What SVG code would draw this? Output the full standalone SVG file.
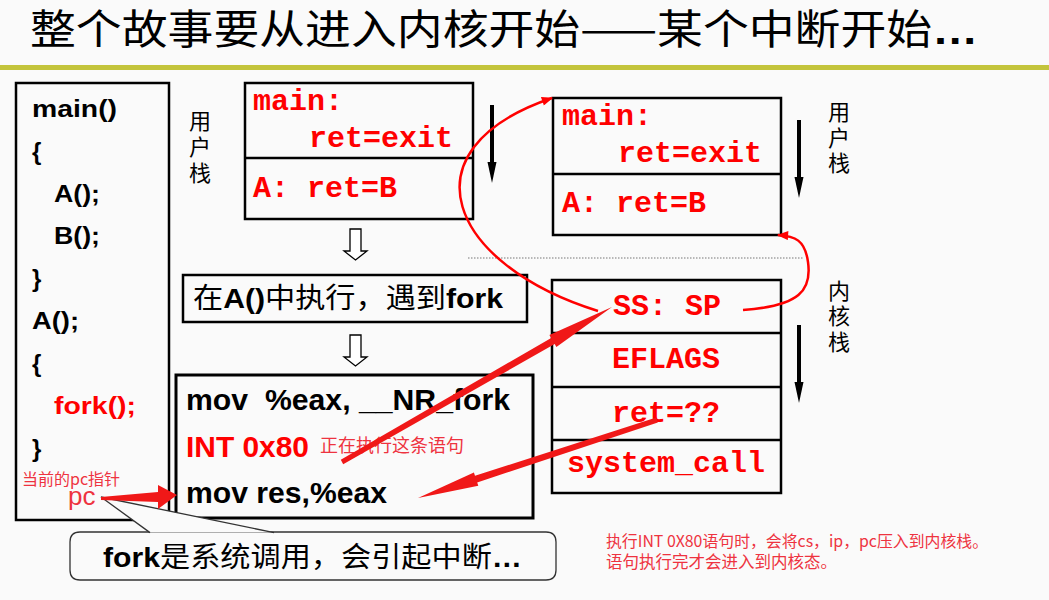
<svg xmlns="http://www.w3.org/2000/svg" width="1049" height="600" viewBox="0 0 1049 600">
<style>
.box{fill:none;stroke:#000;stroke-width:2.5}
.code{font-family:"Liberation Sans",Arial,sans-serif;font-weight:bold;font-size:24px;fill:#000}
.asm{font-family:"Liberation Sans",Arial,sans-serif;font-weight:bold;font-size:29px;fill:#000;white-space:pre}
.mono{font-family:"Liberation Mono","Courier New",monospace;font-weight:bold;font-size:30px;fill:#f00}
.cjk{font-family:"Noto Sans CJK SC",sans-serif;fill:#000}
.mix{font-family:"Liberation Sans","Noto Sans CJK SC",sans-serif;font-size:28px;fill:#000}
.note{font-family:"Noto Sans CJK SC",sans-serif;fill:#ee3340}
.red{fill:#f00}
.b{font-weight:bold}
.lat{font-family:"Liberation Sans",Arial,sans-serif;font-weight:bold}
.harrow{fill:#fff;stroke:#000;stroke-width:1.3}
.curve{fill:none;stroke:#f00;stroke-width:2.5}
.rarrow{fill:#f01818}
</style>
<defs>
<marker id="rh" viewBox="0 0 10 8" markerWidth="12" markerHeight="9" refX="9" refY="4" orient="auto" markerUnits="userSpaceOnUse">
<path d="M0,0 L10,4 L0,8 z" fill="#f00"/>
</marker>
</defs>
<rect width="1049" height="600" fill="#fafafa"/>

<g id="title">
<text x="30" y="44" class="cjk" font-size="41" textLength="948" lengthAdjust="spacingAndGlyphs">整个故事要从进入内核开始——某个中断开始<tspan class="lat">…</tspan></text>
<rect x="0" y="65" width="1049" height="5" fill="#c3c43c"/>
</g>

<g id="code-box">
<rect class="box" x="16" y="83" width="153" height="437"/>
<text class="code" x="32" y="117" textLength="85" lengthAdjust="spacingAndGlyphs">main()</text>
<text class="code" x="32" y="160">{</text>
<text class="code" x="54" y="202" textLength="46" lengthAdjust="spacingAndGlyphs">A();</text>
<text class="code" x="54" y="244" textLength="46" lengthAdjust="spacingAndGlyphs">B();</text>
<text class="code" x="32" y="287">}</text>
<text class="code" x="32" y="329" textLength="47" lengthAdjust="spacingAndGlyphs">A();</text>
<text class="code" x="32" y="372">{</text>
<text class="code red" x="54" y="414" textLength="82" lengthAdjust="spacingAndGlyphs">fork();</text>
<text class="code" x="32" y="457">}</text>
<text class="note" x="22" y="485" font-size="16">当前的pc指针</text>
<text class="note" x="68" y="505" font-size="26" style="font-family:'Liberation Sans','Noto Sans CJK SC',sans-serif">pc</text>
</g>

<g id="user-stack-label-1">
<text class="cjk" font-size="22"><tspan x="189" y="129">用</tspan><tspan x="189" y="155">户</tspan><tspan x="189" y="181">栈</tspan></text>
</g>

<g id="user-stack-1">
<rect class="box" x="245" y="83" width="228" height="136"/>
<line x1="245" y1="158" x2="473" y2="158" stroke="#000" stroke-width="2.5"/>
<text class="mono" x="253" y="110">main:</text>
<text class="mono" x="309" y="147">ret=exit</text>
<text class="mono" x="253" y="197">A: ret=B</text>
</g>

<g id="exec-box">
<rect class="box" x="183" y="275" width="344" height="47"/>
<text class="mix" x="193" y="308" textLength="310" lengthAdjust="spacingAndGlyphs">在<tspan class="b">A()</tspan>中执行，遇到<tspan class="b">fork</tspan></text>
</g>

<g id="asm-box">
<rect class="box" x="176" y="375" width="357" height="143" style="stroke-width:3"/>
<text class="asm" x="186" y="410" textLength="324" lengthAdjust="spacingAndGlyphs">mov  %eax, __NR_fork</text>
<text class="asm red" x="186" y="457" font-size="31" textLength="123" lengthAdjust="spacingAndGlyphs">INT 0x80</text>
<text class="note" x="320" y="452" font-size="18">正在执行这条语句</text>
<text class="asm" x="186" y="503" textLength="201" lengthAdjust="spacingAndGlyphs">mov res,%eax</text>
</g>

<g id="user-stack-2">
<rect class="box" x="553" y="98" width="228" height="137"/>
<line x1="553" y1="174" x2="781" y2="174" stroke="#000" stroke-width="2.5"/>
<text class="mono" x="562" y="125">main:</text>
<text class="mono" x="618" y="162">ret=exit</text>
<text class="mono" x="562" y="212">A: ret=B</text>
</g>

<g id="user-stack-label-2">
<text class="cjk" font-size="22"><tspan x="828" y="120">用</tspan><tspan x="828" y="146">户</tspan><tspan x="828" y="171">栈</tspan></text>
</g>

<g id="divider">
<line x1="468" y1="258" x2="804" y2="258" stroke="#777" stroke-width="1" stroke-dasharray="1.5,1.5"/>
</g>

<g id="kernel-stack">
<rect class="box" x="552" y="280" width="229" height="213"/>
<line x1="552" y1="333" x2="781" y2="333" stroke="#000" stroke-width="2.5"/>
<line x1="552" y1="387" x2="781" y2="387" stroke="#000" stroke-width="2.5"/>
<line x1="552" y1="440" x2="781" y2="440" stroke="#000" stroke-width="2.5"/>
<text class="mono" x="667" y="315" text-anchor="middle">SS: SP</text>
<text class="mono" x="666" y="368" text-anchor="middle">EFLAGS</text>
<text class="mono" x="666" y="422" text-anchor="middle">ret=??</text>
<text class="mono" x="666" y="472" text-anchor="middle">system_call</text>
</g>

<g id="kernel-stack-label">
<text class="cjk" font-size="22"><tspan x="828" y="299">内</tspan><tspan x="828" y="324">核</tspan><tspan x="828" y="350">栈</tspan></text>
</g>

<g id="callout">
<path d="M80,532 H546 Q556,532 556,542 V570 Q556,580 546,580 H80 Q70,580 70,570 V542 Q70,532 80,532 Z" fill="#fafafa" stroke="#333" stroke-width="1.3"/>
<path d="M150,532.6 L101,497 L274,532.6" fill="#fafafa" stroke="#333" stroke-width="1.3"/>
<text class="mix" x="103" y="567" textLength="419" lengthAdjust="spacingAndGlyphs"><tspan class="b">fork</tspan>是系统调用，会引起中断<tspan class="lat">…</tspan></text>
</g>

<g id="note">
<text class="note" x="606" y="547" font-size="16" textLength="382" lengthAdjust="spacingAndGlyphs">执行INT 0X80语句时，会将cs，ip，pc压入到内核栈。</text>
<text class="note" x="606" y="568" font-size="16.5">语句执行完才会进入到内核态。</text>
</g>

<g id="connectors">
<line x1="492" y1="105" x2="492" y2="164" stroke="#000" stroke-width="4"/>
<polygon points="487.5,162 496.5,162 492,183" fill="#000"/>
<line x1="799" y1="120" x2="799" y2="179" stroke="#000" stroke-width="4"/>
<polygon points="794.5,177 803.5,177 799,198" fill="#000"/>
<line x1="799" y1="325" x2="799" y2="384" stroke="#000" stroke-width="4"/>
<polygon points="794.5,382 803.5,382 799,403" fill="#000"/>
<path class="harrow" d="M350,229 H361 V251 H367 L355.5,260 L344,251 H350 Z"/>
<path class="harrow" d="M350,335 H361 V357 H367 L355.5,366 L344,357 H350 Z"/>
<polygon class="rarrow" points="101,497 158,492 158,485 177,495 158,509 158,502 101,500"/>
<polygon class="rarrow" points="343.2,464.2 554.7,344 556.4,347.1 612,307 549.4,334.9 551.2,338 340.8,459.8"/>
<polygon class="rarrow" points="657.8,422.4 477.2,482.4 478.3,485.8 418,498 473.9,472.4 475,475.8 656.2,417.6"/>
<path class="curve" d="M598,311 C450,265 400,150 552,98" marker-end="url(#rh)"/>
<path class="curve" d="M743,310 C800,306 812,290 808,262 C805,240 795,236 778,235" marker-end="url(#rh)"/>
</g>
</svg>
